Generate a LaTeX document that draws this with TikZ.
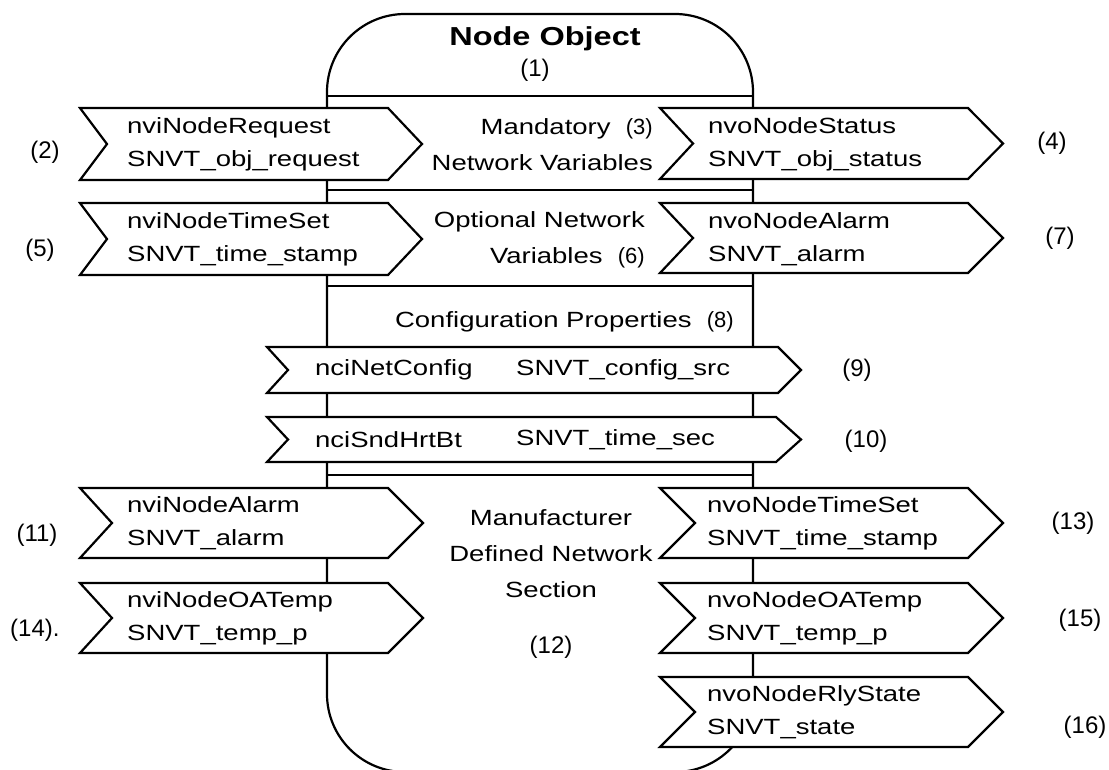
\documentclass[tikz,border=0pt]{standalone}
\usepackage{fontspec}
\setmainfont{Liberation Sans}[FakeStretch=1.25]
\newfontfamily\lblfont{Liberation Sans}
\newcommand\chevron[6]{%
  \draw[abox] (#1,#2) -- (#3,#2) -- ({#3+#6},{(#2+#4)/2}) -- (#3,#4) -- (#1,#4) -- ({#1+#5},{(#2+#4)/2}) -- cycle;}
\begin{document}
\begin{tikzpicture}[x=1pt,y=-1pt,
  body/.style={line width=2.2pt},
  abox/.style={draw=black, fill=white, line width=2.2pt, line join=miter},
  vtxt/.style={anchor=west, align=left, inner sep=0pt, font=\fontsize{22}{33}\selectfont},
  sect/.style={inner sep=0pt, font=\fontsize{22}{36}\selectfont},
  lbl/.style={inner sep=0pt, font=\lblfont\fontsize{24}{28}\selectfont}]
\useasboundingbox[fill=white] (0,0) rectangle (1109,769);
% body
\draw[body, rounded corners=78pt] (327,14) rectangle (753,772);
\draw[body] (327,96) -- (753,96);
\draw[body] (327,190) -- (753,190);
\draw[body] (327,286) -- (753,286);
\draw[body] (327,475) -- (753,475);
% header
\node[inner sep=0pt, font=\bfseries\fontsize{26}{30}\selectfont] (title) at (545,39) {Node Object};
\node[lbl] (l1) at (535,70) {(1)};
% mandatory
\chevron{80}{108}{388}{180}{27}{34}
\chevron{660}{108}{968}{179}{33}{35}
\node[vtxt] (nviReq) at (127,144) {nviNodeRequest\\SNVT\_obj\_request};
\node[vtxt] (nvoStat) at (708,144) {nvoNodeStatus\\SNVT\_obj\_status};
\node[sect, anchor=east, align=right] (mand) at (653,145) {Mandatory~~{\lblfont(3)}\\Network Variables};
% optional
\chevron{80}{203}{388}{275}{27}{34}
\chevron{660}{203}{968}{273}{33}{35}
\node[vtxt] (nviTime) at (127,239) {nviNodeTimeSet\\SNVT\_time\_stamp};
\node[vtxt] (nvoAlarm) at (708,239) {nvoNodeAlarm\\SNVT\_alarm};
\node[sect, anchor=east, align=right] (opt) at (645,240) {Optional Network\\Variables~~{\lblfont(6)}};
% configuration
\node[sect, anchor=east] (conf) at (734,322) {Configuration Properties~~{\lblfont(8)}};
\chevron{267}{347}{778}{393}{21}{23}
\chevron{267}{417}{776}{462}{21}{25}
\node[vtxt] (nciNet) at (315,370) {nciNetConfig};
\node[vtxt] (nciNetT) at (516,370) {SNVT\_config\_src};
\node[vtxt] (nciHb) at (315,440) {nciSndHrtBt};
\node[vtxt] (nciHbT) at (516,440) {SNVT\_time\_sec};
% manufacturer
\chevron{80}{488}{388}{558}{32}{35}
\chevron{80}{583}{388}{653}{32}{35}
\chevron{660}{488}{968}{558}{35}{35}
\chevron{660}{583}{968}{653}{35}{35}
\chevron{660}{677}{968}{747}{35}{35}
\node[vtxt] (nviAl) at (127,523) {nviNodeAlarm\\SNVT\_alarm};
\node[vtxt] (nviOA) at (127,618) {nviNodeOATemp\\SNVT\_temp\_p};
\node[vtxt] (nvoTS) at (707,523) {nvoNodeTimeSet\\SNVT\_time\_stamp};
\node[vtxt] (nvoOA) at (707,618) {nvoNodeOATemp\\SNVT\_temp\_p};
\node[vtxt] (nvoRly) at (707,712) {nvoNodeRlyState\\SNVT\_state};
\node[sect, align=center] (manu) at (551,554) {Manufacturer\\Defined Network\\Section};
\node[lbl] (l12) at (551,647) {(12)};
% labels
\node[lbl] (l2) at (45,152) {(2)};
\node[lbl] (l4) at (1052,143) {(4)};
\node[lbl] (l5) at (40,250) {(5)};
\node[lbl] (l7) at (1060,238) {(7)};
\node[lbl] (l9) at (857,370) {(9)};
\node[lbl] (l10) at (866,441) {(10)};
\node[lbl] (l11) at (37,535) {(11)};
\node[lbl, anchor=west] (l14) at (10,630) {(14).};
\node[lbl] (l13) at (1073,523) {(13)};
\node[lbl] (l15) at (1080,620) {(15)};
\node[lbl] (l16) at (1085,727) {(16)};
\end{tikzpicture}
\end{document}
